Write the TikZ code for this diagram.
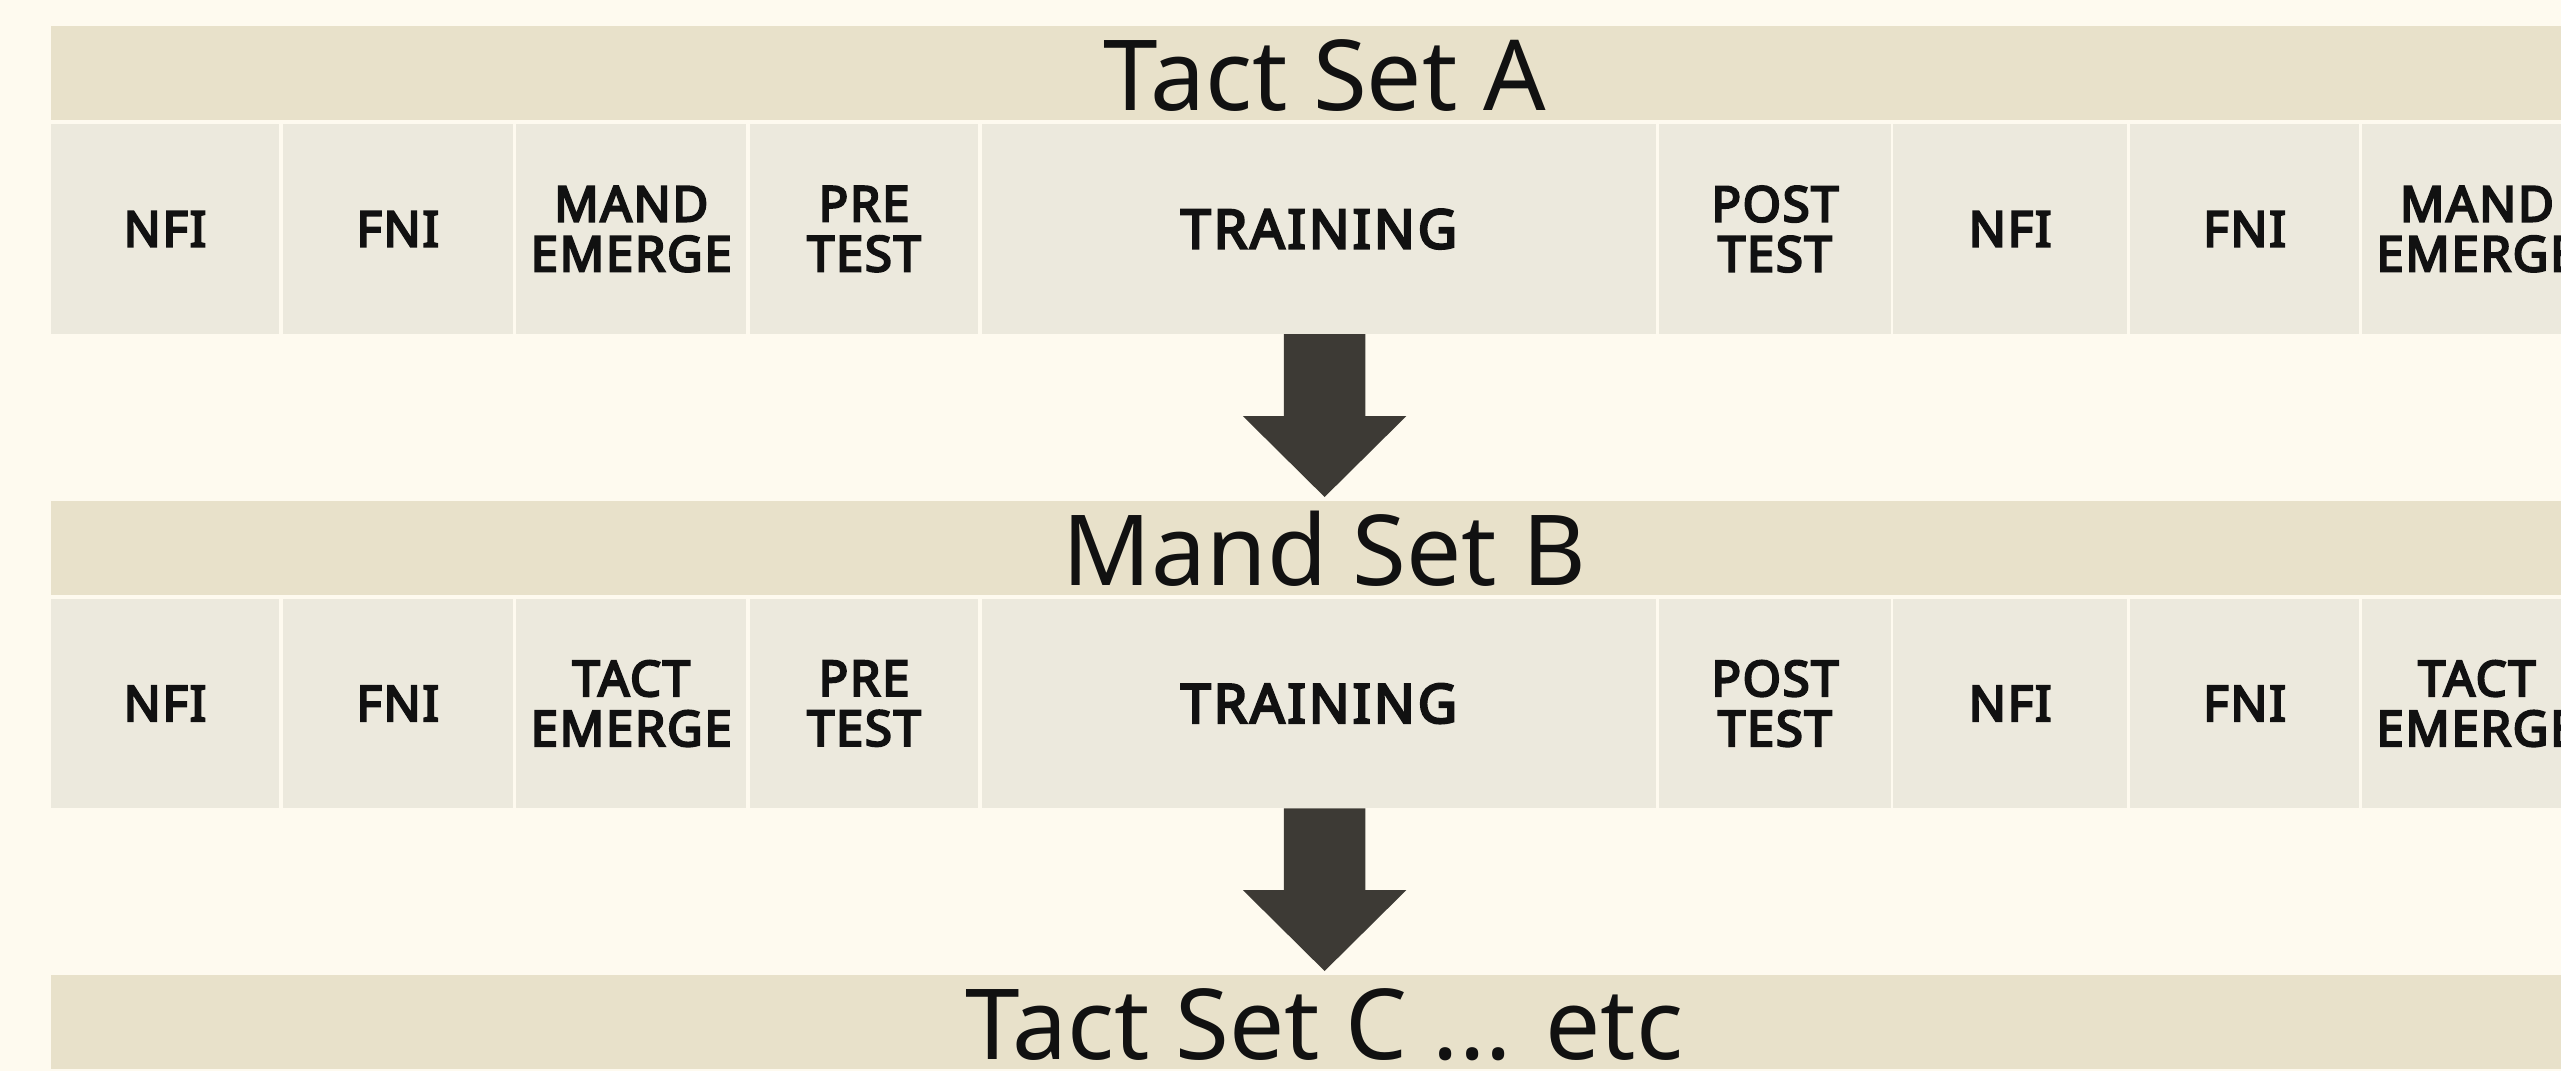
\documentclass[tikz,border=0pt]{standalone}
\usepackage{fontspec}
\setmainfont{Noto Sans}
\newfontfamily\cellfont{Noto Sans}[FakeBold=4.5, LetterSpace=3.5]
\newfontfamily\trainfont{Noto Sans}[FakeBold=4.5, LetterSpace=5.5]
\usetikzlibrary{calc}
\definecolor{bgc}{RGB}{254,250,239}
\definecolor{bandc}{RGB}{232,225,202}
\definecolor{cellc}{RGB}{236,233,221}
\definecolor{arrc}{RGB}{61,58,53}
\definecolor{txtc}{RGB}{17,17,17}
\tikzset{
  band/.style={fill=bandc, inner sep=0pt, outer sep=0pt, anchor=north west,
    minimum width=1560pt, minimum height=57.5pt, text=txtc,
    font=\fontsize{60}{60}\selectfont, text height=46.1pt, text depth=0pt},
  cell/.style={fill=cellc, inner sep=0pt, outer sep=0pt, anchor=north west,
    minimum height=128.5pt, text=txtc, align=center,
    font=\cellfont\fontsize{30}{30.6}\selectfont},
  traincell/.style={cell, font=\trainfont\fontsize{33}{33}\selectfont},
  bigarrow/.style={fill=arrc, draw=none}
}
\newcommand\blockarrow[2]{%
  \fill[bigarrow] let \p1=(#1), \p2=(#2) in
    (\x1-25pt,\y1) -- (\x1+25pt,\y1) -- (\x1+25pt,\y2+49.5pt) --
    (\x1+50pt,\y2+49.5pt) -- (\x1,\y2) -- (\x1-50pt,\y2+49.5pt) --
    (\x1-25pt,\y2+49.5pt) -- cycle;}
\begin{document}
\begin{tikzpicture}[x=1pt,y=-1pt]
\useasboundingbox (0,0) rectangle (1568,655.8);
\clip (0,0) rectangle (1568,655.8);
\fill[bgc] (0,0) rectangle (1568,655.8);
\foreach \r/\off/\ttl/\emw in {A/0/Tact Set A/MAND, B/290.5/Mand Set B/TACT}{
  \node[band] (band\r) at (31,16+\off) {\ttl};
  \node[cell, minimum width=140pt] (nfiI\r) at (31,76+\off) {NFI};
  \node[cell, minimum width=141pt] (fniI\r) at (173,76+\off) {FNI};
  \node[cell, minimum width=141pt] (emgI\r) at (316,76+\off) {\emw\\EMERGE};
  \node[cell, minimum width=140pt] (pre\r) at (459,76+\off) {PRE\\TEST};
  \node[traincell, minimum width=413pt] (train\r) at (601,76+\off) {TRAINING};
  \node[cell, minimum width=141.5pt] (post\r) at (1016,76+\off) {POST\\TEST};
  \node[cell, minimum width=143.5pt] (nfiII\r) at (1159,76+\off) {NFI};
  \node[cell, minimum width=140.5pt] (fniII\r) at (1304,76+\off) {FNI};
  \node[cell, minimum width=141pt] (emgII\r) at (1446,76+\off) {\emw\\EMERGE};
}
\node[band] (bandC) at (31,597) {Tact Set C ... etc};
\coordinate (arrAs) at (trainA.south -| bandB.north);
\coordinate (arrAe) at ($(bandB.north)+(0,-2.2)$);
\coordinate (arrBs) at (trainB.south -| bandC.north);
\coordinate (arrBe) at ($(bandC.north)+(0,-2.5)$);
\blockarrow{arrAs}{arrAe}
\blockarrow{arrBs}{arrBe}
\end{tikzpicture}
\end{document}
